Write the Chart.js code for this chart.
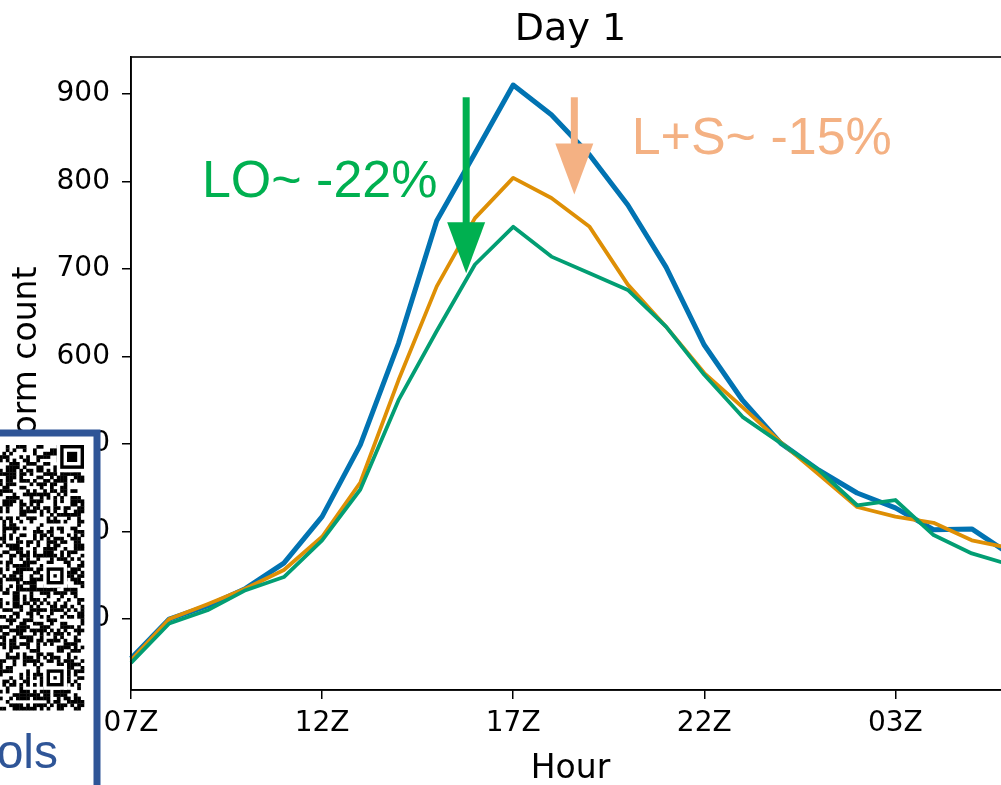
<!DOCTYPE html>
<html>
<head>
<meta charset="utf-8">
<title>Day 1 storm count</title>
<script src="https://cdn.jsdelivr.net/npm/chart.js@4/dist/chart.umd.min.js"></script>
<style>
    html, body { margin: 0; padding: 0; background: #fff; overflow: hidden; }
    #wrap { position: relative; width: 1001px; height: 785px; overflow: hidden; }
    #storm-chart { position: absolute; left: 0; top: 0; }
    #qr-box { position: absolute; left: 0; top: 425px; }
</style>
</head>
<body>
<div id="wrap">
    <canvas id="storm-chart" width="1040" height="785"></canvas>
    <canvas id="qr-box" width="110" height="360"></canvas>
</div>
<script>
const hours = ['07Z', '08Z', '09Z', '10Z', '11Z', '12Z', '13Z', '14Z', '15Z', '16Z', '17Z', '18Z',
               '19Z', '20Z', '21Z', '22Z', '23Z', '00Z', '01Z', '02Z', '03Z', '04Z', '05Z', '06Z'];
const baseCounts = [255, 300, 315, 335, 364, 417, 499, 615, 755, 832, 910, 876,
                    830, 773, 702, 613, 550, 501, 470, 444, 427, 402, 403, 374];
const lsCounts   = [253, 300, 317, 335, 356, 394, 456, 573, 680, 758, 804, 781,
                    748, 682, 634, 581, 542, 502, 465, 428, 417, 410, 390, 381];
const loCounts   = [250, 295, 310, 333, 348, 390, 448, 550, 629, 705, 748, 714,
                    695, 676, 634, 579, 531, 501, 470, 430, 436, 396, 375, 362];
const yTicks = [300, 400, 500, 600, 700, 800, 900];

const tickFont = { family: 'DejaVu Sans', size: 28 };
const green = '#00B050';
const salmon = '#F4B183';

// down arrow in data coordinates: shaft from top value to the head, head ends at tip
function drawArrow(chart, idx, fromVal, tipVal, color) {
    const { ctx, scales } = chart;
    const x = scales.x.getPixelForValue(idx);
    const y0 = scales.y.getPixelForValue(fromVal);
    const tip = scales.y.getPixelForValue(tipVal);
    const headLen = 51, headHalf = 19;
    ctx.fillStyle = color;
    ctx.fillRect(x - 3.5, y0, 7, tip - headLen - y0 + 2);
    ctx.beginPath();
    ctx.moveTo(x - headHalf, tip - headLen);
    ctx.lineTo(x + headHalf, tip - headLen);
    ctx.lineTo(x, tip);
    ctx.closePath();
    ctx.fill();
}

const frameAndText = {
    id: 'frameAndText',
    afterDraw(chart) {
        const { ctx, chartArea: a, scales } = chart;
        const cx = (a.left + a.right) / 2;
        ctx.save();
        ctx.strokeStyle = '#000';
        ctx.lineWidth = 1.6;
        ctx.strokeRect(a.left, a.top, a.right - a.left, a.bottom - a.top);

        ctx.fillStyle = '#000';
        ctx.textAlign = 'center';
        ctx.textBaseline = 'alphabetic';
        ctx.font = '38px "DejaVu Sans"';
        ctx.fillText('Day 1', cx, 40);
        ctx.font = '33px "DejaVu Sans"';
        ctx.fillText('Hour', cx, 778);

        ctx.save();
        ctx.translate(36, 368);
        ctx.rotate(-Math.PI / 2);
        ctx.fillText('Storm count', 0, 0);
        ctx.restore();

        drawArrow(chart, 8.77, 896, 695, green);
        drawArrow(chart, 11.6, 896, 785, salmon);

        ctx.font = '52px "Liberation Sans"';
        ctx.fillStyle = green;
        ctx.textAlign = 'right';
        ctx.fillText('LO~ -22%', scales.x.getPixelForValue(8.02), scales.y.getPixelForValue(782));
        ctx.fillStyle = salmon;
        ctx.textAlign = 'left';
        ctx.fillText('L+S~ -15%', scales.x.getPixelForValue(13.1), scales.y.getPixelForValue(831));
        ctx.restore();
    }
};

const ctx = document.getElementById('storm-chart').getContext('2d');
new Chart(ctx, {
    type: 'line',
    data: {
        labels: hours,
        datasets: [
            { label: 'Base', data: baseCounts, borderColor: '#0173B2', borderWidth: 5, order: 3 },
            { label: 'L+S', data: lsCounts, borderColor: '#DE8F05', borderWidth: 3.8, order: 2 },
            { label: 'LO', data: loCounts, borderColor: '#029E73', borderWidth: 3.8, order: 1 }
        ]
    },
    options: {
        responsive: false,
        animation: false,
        layout: { padding: { top: 57, right: 30, left: 0, bottom: 0 } },
        elements: {
            point: { radius: 0 },
            line: { tension: 0, fill: false, borderJoinStyle: 'round' }
        },
        plugins: {
            legend: { display: false },
            tooltip: { enabled: false }
        },
        scales: {
            x: {
                type: 'category',
                offset: false,
                grid: { drawOnChartArea: false, drawTicks: true, tickLength: 9, color: '#000', lineWidth: 1.5 },
                border: { display: true, color: '#000', width: 1.6 },
                ticks: { autoSkip: false, maxRotation: 0, padding: 8, color: '#000', font: tickFont },
                afterBuildTicks: s => { s.ticks = s.ticks.filter(t => t.value % 5 === 0); },
                afterFit: s => { s.height = 95; }
            },
            y: {
                min: 219,
                max: 942,
                grid: { drawOnChartArea: false, drawTicks: true, tickLength: 9, color: '#000', lineWidth: 1.5 },
                border: { display: true, color: '#000', width: 1.6 },
                ticks: { padding: 12, color: '#000', font: tickFont },
                afterBuildTicks: s => { s.ticks = yTicks.map(v => ({ value: v })); },
                afterFit: s => { s.width = 131; }
            }
        }
    },
    plugins: [frameAndText]
});

// slide inset at bottom left: framed QR code with caption
function drawQrBox() {
    const c = document.getElementById('qr-box').getContext('2d');
    const top = 8;
    c.fillStyle = '#fff';
    c.fillRect(0, top, 97, 360);
    c.strokeStyle = '#2F5597';
    c.lineWidth = 7;
    c.beginPath();
    c.moveTo(-5, top);
    c.lineTo(97, top);
    c.lineTo(97, 365);
    c.stroke();

    const m = 3.4, n = 78;
    const qrTop = 445 - 425, qrRight = 84;
    const x0 = qrRight - n * m;
    c.fillStyle = '#000';
    for (let r = 0; r < n; r++) {
        for (let col = 0; col < n; col++) {
            const x = x0 + col * m;
            if (x + m < 0) continue;
            let h = (r * 374761393 + col * 668265263) | 0;
            h = Math.imul(h ^ (h >>> 13), 1274126177);
            h ^= h >>> 16;
            if (h & 1) c.fillRect(x, qrTop + r * m, m + 0.3, m + 0.3);
        }
    }
    // finder and alignment marks
    const square = (col, row, size) => {
        const x = x0 + col * m, y = qrTop + row * m;
        c.fillStyle = '#fff';
        c.fillRect(x - m, y - m, (size + 2) * m, (size + 2) * m);
        c.fillStyle = '#000';
        c.fillRect(x, y, size * m, size * m);
        c.fillStyle = '#fff';
        c.fillRect(x + m, y + m, (size - 2) * m, (size - 2) * m);
        c.fillStyle = '#000';
        const inner = size === 7 ? 3 : 1;
        c.fillRect(x + (size - inner) / 2 * m, y + (size - inner) / 2 * m, inner * m, inner * m);
    };
    square(n - 7, 0, 7);
    square(67, 36, 5);
    square(67, 66, 5);

    c.fillStyle = '#2F5597';
    c.font = '48px "Liberation Sans"';
    c.textAlign = 'right';
    c.fillText('ols', 58, 768 - 425);
}
drawQrBox();
</script>
</body>
</html>
